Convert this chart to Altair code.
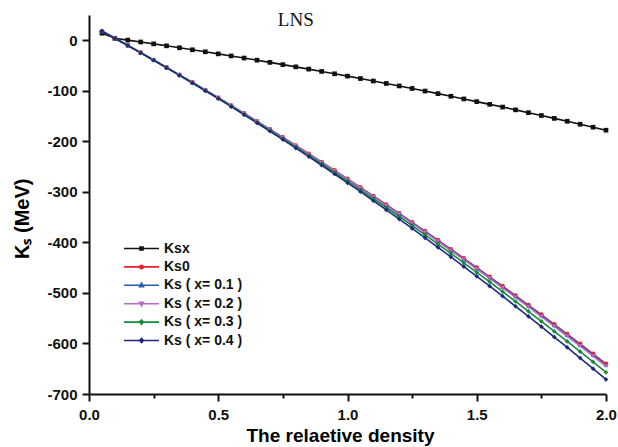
import altair as alt
import pandas as pd

density = [0.05, 0.10, 0.15, 0.20, 0.25, 0.30, 0.35, 0.40, 0.45, 0.50,
           0.55, 0.60, 0.65, 0.70, 0.75, 0.80, 0.85, 0.90, 0.95, 1.00,
           1.05, 1.10, 1.15, 1.20, 1.25, 1.30, 1.35, 1.40, 1.45, 1.50,
           1.55, 1.60, 1.65, 1.70, 1.75, 1.80, 1.85, 1.90, 1.95, 2.00]

ksx = [14.0, 4.0, 0.3, -3.4, -7.1, -11.0, -14.8, -18.8, -22.8, -26.9,
       -31.0, -35.2, -39.4, -43.8, -48.2, -52.6, -57.1, -61.7, -66.3, -71.0,
       -75.8, -80.6, -85.5, -90.4, -95.4, -100.5, -105.6, -110.8, -116.1, -121.4,
       -126.8, -132.2, -137.7, -143.3, -148.9, -154.6, -160.3, -166.2, -172.0, -178.0]

ks0 = [18.0, 4.0, -10.2, -24.6, -39.1, -53.7, -68.5, -83.4, -98.5, -113.7,
       -129.1, -144.7, -160.4, -176.2, -192.2, -208.3, -224.6, -241.0, -257.6, -274.3,
       -291.2, -308.2, -325.4, -342.7, -360.2, -377.8, -395.6, -413.5, -431.5, -449.8,
       -468.1, -486.6, -505.3, -524.1, -543.1, -562.2, -581.4, -600.8, -620.4, -640.2]

ks_x01 = [18.0, 4.0, -10.2, -24.6, -39.1, -53.7, -68.6, -83.5, -98.6, -113.8,
          -129.3, -144.9, -160.6, -176.4, -192.5, -208.6, -225.0, -241.4, -258.1, -274.8,
          -291.8, -308.8, -326.1, -343.4, -361.0, -378.6, -396.5, -414.5, -432.6, -450.9,
          -469.3, -487.9, -506.7, -525.5, -544.6, -563.8, -583.1, -602.6, -622.3, -642.2]

ks_x02 = [18.0, 4.0, -10.2, -24.7, -39.2, -53.8, -68.7, -83.6, -98.8, -114.0,
          -129.5, -145.2, -160.9, -176.8, -192.9, -209.1, -225.5, -242.0, -258.7, -275.5,
          -292.6, -309.7, -327.1, -344.5, -362.2, -379.9, -397.9, -416.0, -434.1, -452.6,
          -471.1, -489.8, -508.7, -527.7, -546.9, -566.3, -585.7, -605.3, -625.2, -645.2]

ks_x03 = [18.0, 4.0, -10.3, -24.8, -39.4, -54.1, -69.0, -84.1, -99.4, -114.8,
          -130.4, -146.2, -162.2, -178.3, -194.6, -211.0, -227.7, -244.4, -261.4, -278.6,
          -295.9, -313.3, -331.0, -348.8, -366.8, -385.0, -403.3, -421.8, -440.4, -459.4,
          -478.3, -497.5, -516.9, -536.4, -556.1, -576.0, -596.0, -616.1, -636.6, -657.2]

ks_x04 = [18.0, 3.9, -10.4, -24.9, -39.6, -54.4, -69.5, -84.6, -100.1, -115.6,
          -131.4, -147.5, -163.7, -180.0, -196.6, -213.3, -230.2, -247.3, -264.6, -282.1,
          -299.7, -317.6, -335.7, -353.9, -372.3, -390.9, -409.7, -428.7, -447.8, -467.2,
          -486.7, -506.4, -526.4, -546.5, -566.8, -587.3, -607.9, -628.8, -649.9, -671.2]

series_names = ["Ksx", "Ks0", "Ks ( x= 0.1 )", "Ks ( x= 0.2 )", "Ks ( x= 0.3 )", "Ks ( x= 0.4 )"]
series_values = [ksx, ks0, ks_x01, ks_x02, ks_x03, ks_x04]
series_colors = ["#111111", "#ec2227", "#2b5caa", "#b56cc6", "#17893b", "#1c2a7c"]
marker_shapes = ["square", "circle", "triangle-up", "triangle-down", "diamond", "diamond"]
legend_shapes = [
    "M-2.06,0H2.06M-0.18,-0.18H0.18V0.18H-0.18Z",
    "M-2.06,0H2.06M0.2,0A0.2,0.2 0 1,1 -0.2,0A0.2,0.2 0 1,1 0.2,0Z",
    "M-2.06,0H2.06M0,-0.25L0.23,0.16H-0.23Z",
    "M-2.06,0H2.06M0,0.25L0.23,-0.16H-0.23Z",
    "M-2.06,0H2.06M0,-0.25L0.22,0L0,0.25L-0.22,0Z",
    "M-2.06,0H2.06M0,-0.25L0.22,0L0,0.25L-0.22,0Z",
]

x_ticks = [0.0, 0.25, 0.5, 0.75, 1.0, 1.25, 1.5, 1.75, 2.0]
y_ticks = [-700, -650, -600, -550, -500, -450, -400, -350, -300, -250,
           -200, -150, -100, -50, 0, 50]

title_text = ["LNS"]
title_x = [0.80]
title_y = [40]

rows = []
for name, vals, shp in zip(series_names, series_values, marker_shapes):
    for d, v in zip(density, vals):
        rows.append({"density": d, "ks": v, "series": name, "shape": shp})
df = pd.DataFrame(rows)

FONT = "Liberation Sans"

x_enc = alt.X(
    "density:Q",
    scale=alt.Scale(domain=[0, 2], nice=False),
    axis=alt.Axis(
        values=x_ticks,
        format=".1f",
        labelExpr="(round(datum.value*4) % 2 == 0) ? datum.label : ''",
        tickSize={"condition": {"test": "round(datum.value*4) % 2 == 0", "value": 7}, "value": 4},
        grid=False,
        title="The relaetive density",
        titleFont=FONT,
        titleFontSize=19,
        titleFontWeight="bold",
        titleX=251,
        titleY=41,
        titleBaseline="middle",
        titleAlign="center",
        labelFont=FONT,
        labelFontSize=15,
        labelFontWeight="bold",
        labelPadding=6,
        labelColor="#111111",
        labelFlush=False,
    ),
)

y_enc = alt.Y(
    "ks:Q",
    scale=alt.Scale(domain=[-700, 50], nice=False, zero=False),
    axis=alt.Axis(
        values=y_ticks,
        labelExpr="(datum.value % 100 == 0) ? replace(datum.label, '\u2212', '-') : ''",
        tickSize={"condition": {"test": "datum.value % 100 == 0", "value": 7}, "value": 4},
        grid=False,
        title="Kₛ (MeV)",
        titleFont=FONT,
        titleFontSize=20,
        titleFontWeight="bold",
        titleAngle=270,
        titleX=-67,
        titleY=163,
        titleBaseline="middle",
        titleAlign="right",
        labelFont=FONT,
        labelFontSize=15,
        labelFontWeight="bold",
        labelPadding=5,
        labelColor="#111111",
        labelFlush=False,
    ),
)

color_scale = alt.Scale(domain=series_names, range=series_colors)

lines = alt.Chart(df).mark_line(strokeWidth=1.6).encode(
    x=x_enc,
    y=y_enc,
    color=alt.Color("series:N", scale=color_scale, legend=None),
)

points = alt.Chart(df).mark_point(filled=True, size=22, opacity=1).encode(
    x=x_enc,
    y=y_enc,
    color=alt.Color("series:N", scale=color_scale, legend=None),
    shape=alt.Shape("shape:N", scale=None),
)

leg = alt.Legend(
    title=None,
    orient="none",
    legendX=43,
    legendY=224,
    padding=0,
    symbolSize=289,
    symbolStrokeWidth=1.6,
    symbolOpacity=1,
    labelFont=FONT,
    labelFontSize=14,
    labelFontWeight="bold",
    labelColor="#111111",
    labelOffset=13,
    rowPadding=1.4,
)

legend_layer = alt.Chart(df).transform_filter("false").mark_point(
    filled=False, strokeWidth=1.6, opacity=1
).encode(
    x=x_enc,
    y=y_enc,
    color=alt.Color("series:N", scale=color_scale, legend=leg),
    fill=alt.Fill("series:N", scale=color_scale, legend=leg),
    shape=alt.Shape("series:N", scale=alt.Scale(domain=series_names, range=legend_shapes), legend=leg),
)

title_df = pd.DataFrame({"x": title_x, "y": title_y, "t": title_text})
title_layer = alt.Chart(title_df).mark_text(
    font="Liberation Serif", fontSize=19, color="#111111", baseline="middle", align="center"
).encode(
    x=alt.X("x:Q", scale=alt.Scale(domain=[0, 2], nice=False)),
    y=alt.Y("y:Q", scale=alt.Scale(domain=[-700, 50], nice=False, zero=False)),
    text="t:N",
)

chart = alt.layer(lines, points, legend_layer, title_layer).resolve_scale(
    shape="independent", color="independent", fill="independent"
).properties(
    width=517,
    height=379,
    autosize=alt.AutoSizeParams(type="none"),
    padding={"left": 89, "top": 15, "right": 12, "bottom": 53},
    background="white",
).configure_view(strokeWidth=0).configure_axis(
    domainColor="#111111",
    domainWidth=2,
    tickColor="#111111",
    tickWidth=2,
)

chart.save("out.html", embed_options={"renderer": "svg", "actions": False})
